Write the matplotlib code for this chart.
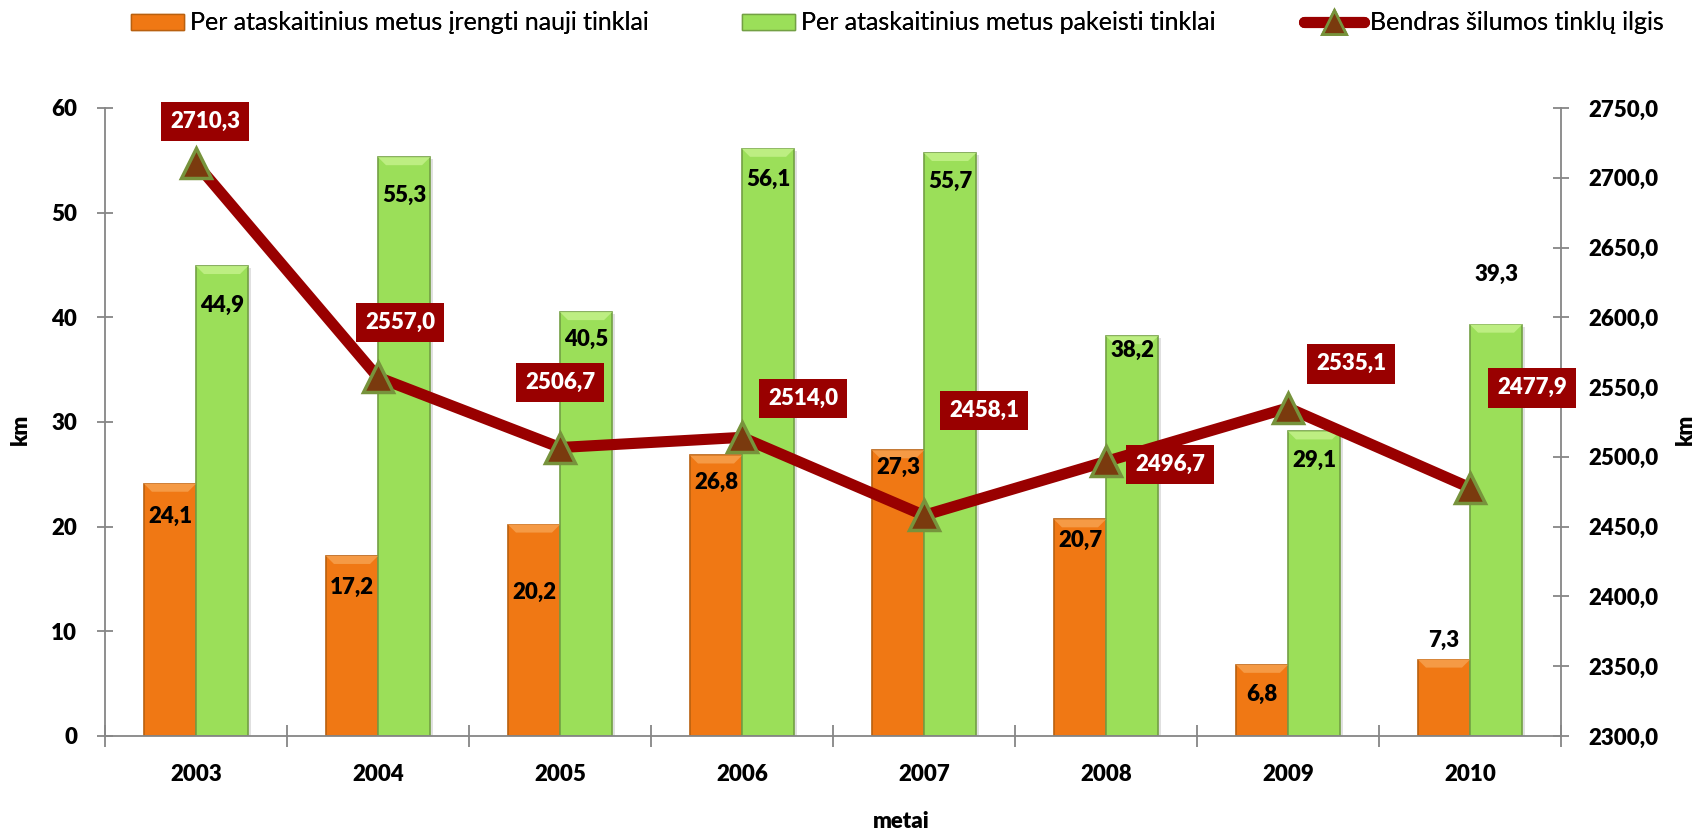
import matplotlib
matplotlib.use("Agg")
import matplotlib.pyplot as plt
from matplotlib.patches import Patch, Polygon
from matplotlib.lines import Line2D
from matplotlib.ticker import FuncFormatter, FixedLocator, NullFormatter
import matplotlib.transforms as mtransforms
import numpy as np

# ---------------- data ----------------
years = ["2003", "2004", "2005", "2006", "2007", "2008", "2009", "2010"]
new_nets = [24.1, 17.2, 20.2, 26.8, 27.3, 20.7, 6.8, 7.3]
replaced_nets = [44.9, 55.3, 40.5, 56.1, 55.7, 38.2, 29.1, 39.3]
total_length = [2710.3, 2557.0, 2506.7, 2514.0, 2458.1, 2496.7, 2535.1, 2477.9]

series_names = ["Per ataskaitinius metus įrengti nauji tinklai",
                "Per ataskaitinius metus pakeisti tinklai",
                "Bendras šilumos tinklų ilgis"]

# label offsets (pixels) relative to bar top / marker
new_lbl_dy = [-33, -31, -68, -27, -17, -21, -30, 19]
rep_lbl_dy = [-39, -38, -27, -31, -28, -14, -29, 50]
line_lbl_off = [(9, 42), (22, 55), (0, 65), (61, 39), (60, 105), (64, -3), (63, 44), (62, 100)]

# ---------------- style ----------------
FONT = "Lato"
plt.rcParams["font.family"] = [FONT, "DejaVu Sans"]
ORANGE = "#F07814"
ORANGE_EDGE = "#B9600F"
ORANGE_LIGHT = "#F59A45"
GREEN = "#9BDF59"
GREEN_EDGE = "#73A044"
GREEN_LIGHT = "#BDEE82"
LINE_RED = "#990000"
AX_GREY = "#868686"
FS = 16
WEIGHT = "heavy"

fig = plt.figure(figsize=(17.02, 8.35), dpi=100)
ax = fig.add_axes([105 / 1702, 1 - 736 / 835, (1561 - 105) / 1702, (736 - 108) / 835])
ax2 = ax.twinx()

x = np.arange(len(years))
w = 0.286

# soft shadow behind bars (offset by a few pixels)
shadow_tr = ax.transData + mtransforms.ScaledTranslation(3 / 100, -2 / 100, fig.dpi_scale_trans)
ax.bar(x - w / 2, new_nets, width=w, color="#000000", alpha=0.12, linewidth=0, zorder=1.5,
       transform=shadow_tr)
ax.bar(x + w / 2, replaced_nets, width=w, color="#000000", alpha=0.12, linewidth=0, zorder=1.5,
       transform=shadow_tr)

b1 = ax.bar(x - w / 2, new_nets, width=w, color=ORANGE, edgecolor=ORANGE_EDGE, linewidth=1.2, zorder=2)
b2 = ax.bar(x + w / 2, replaced_nets, width=w, color=GREEN, edgecolor=GREEN_EDGE, linewidth=1.2, zorder=2)

# bevel highlight on top of bars (derived from bar geometry)
px_per_unit_y = (736 - 108) / 60.0
px_per_unit_x = (1561 - 105) / 8.0
bev_y = 8 / px_per_unit_y
bev_x = 8 / px_per_unit_x
for bars, light in ((b1, ORANGE_LIGHT), (b2, GREEN_LIGHT)):
    for r in bars:
        x0, x1 = r.get_x(), r.get_x() + r.get_width()
        top = r.get_height()
        poly = Polygon([(x0, top), (x1, top), (x1 - bev_x, top - bev_y), (x0 + bev_x, top - bev_y)],
                       closed=True, facecolor=light, edgecolor="none", zorder=2.5)
        ax.add_patch(poly)

# bar labels
for r, v, dy in zip(b1, new_nets, new_lbl_dy):
    ax.annotate(f"{v:.1f}".replace(".", ","), (r.get_x() + r.get_width() / 2, r.get_height()),
                xytext=(0, dy), textcoords="offset pixels", ha="center", va="center",
                fontsize=FS, fontweight=WEIGHT, color="black", zorder=6)
for r, v, dy in zip(b2, replaced_nets, rep_lbl_dy):
    ax.annotate(f"{v:.1f}".replace(".", ","), (r.get_x() + r.get_width() / 2, r.get_height()),
                xytext=(0, dy), textcoords="offset pixels", ha="center", va="center",
                fontsize=FS, fontweight=WEIGHT, color="black", zorder=6)

# line on secondary axis
ax2.plot(x, total_length, color=LINE_RED, linewidth=8, solid_capstyle="round", zorder=4,
         marker="^", markersize=21, markerfacecolor="#7A3A0E", markeredgecolor="#77933C",
         markeredgewidth=2.5)
for xi, v, (ox, oy) in zip(x, total_length, line_lbl_off):
    ax2.annotate(f"{v:.1f}".replace(".", ","), (xi, v), xytext=(ox, oy), textcoords="offset pixels",
                 ha="center", va="center", fontsize=FS, fontweight=WEIGHT, color="white", zorder=7,
                 bbox=dict(boxstyle="square,pad=0.42", facecolor=LINE_RED, edgecolor="none"))

# axes formatting
ax.set_xlim(-0.5, len(years) - 0.5)
ax.set_ylim(0, 60)
ax2.set_ylim(2300, 2750)
ax.set_yticks(np.arange(0, 61, 10))
ax2.set_yticks(np.arange(2300, 2751, 50))
ax2.yaxis.set_major_formatter(FuncFormatter(lambda v, p: f"{v:.1f}".replace(".", ",")))

ax.xaxis.set_major_locator(FixedLocator(np.arange(-0.5, len(years), 1.0)))
ax.xaxis.set_major_formatter(NullFormatter())
ax.set_xticks(x, minor=True)
ax.set_xticklabels(years, minor=True)

for a in (ax, ax2):
    for s in a.spines.values():
        s.set_color(AX_GREY)
        s.set_linewidth(1.3)
    a.spines["top"].set_visible(False)
ax.spines["right"].set_visible(False)
ax2.spines["left"].set_visible(False)
ax2.spines["bottom"].set_visible(False)

ax.tick_params(axis="y", direction="inout", length=12, width=1.3, color=AX_GREY, pad=14,
               labelsize=FS)
ax2.tick_params(axis="y", direction="inout", length=12, width=1.3, color=AX_GREY, pad=14,
                labelsize=FS)
ax.tick_params(axis="x", which="major", direction="inout", length=16, width=1.3, color=AX_GREY)
ax.tick_params(axis="x", which="minor", length=0, pad=20, labelsize=FS)
for lab in ax.get_yticklabels() + ax2.get_yticklabels() + ax.get_xticklabels(minor=True):
    lab.set_fontweight(WEIGHT)

fig.text(20 / 1702, 1 - 429 / 835, "km", rotation=90, ha="center", va="center",
         fontsize=FS, fontweight=WEIGHT)
fig.text(1685 / 1702, 1 - 429 / 835, "km", rotation=90, ha="center", va="center",
         fontsize=FS, fontweight=WEIGHT)
fig.text(901 / 1702, 1 - 822 / 835, "metai", ha="center", va="center",
         fontsize=FS, fontweight=WEIGHT)

# legend: three separate entries placed like the reference
handles = [Patch(facecolor=ORANGE, edgecolor=ORANGE_EDGE),
           Patch(facecolor=GREEN, edgecolor=GREEN_EDGE),
           Line2D([0], [0], color=LINE_RED, linewidth=8, solid_capstyle="round", marker="^",
                  markersize=17, markerfacecolor="#7A3A0E", markeredgecolor="#77933C",
                  markeredgewidth=2)]
leg_x = [131, 742, 1304]
leg_hlen = [2.1, 2.1, 2.4]
for h, name, lx, hl in zip(handles, series_names, leg_x, leg_hlen):
    lg = fig.legend([h], [name], loc="center left", bbox_to_anchor=(lx / 1702, 1 - 23 / 835),
                    frameon=False, fontsize=18, handlelength=hl, handleheight=0.6,
                    handletextpad=0.25, borderpad=0, borderaxespad=0)
    fig.add_artist(lg)

fig.savefig("out.png", dpi=100)
